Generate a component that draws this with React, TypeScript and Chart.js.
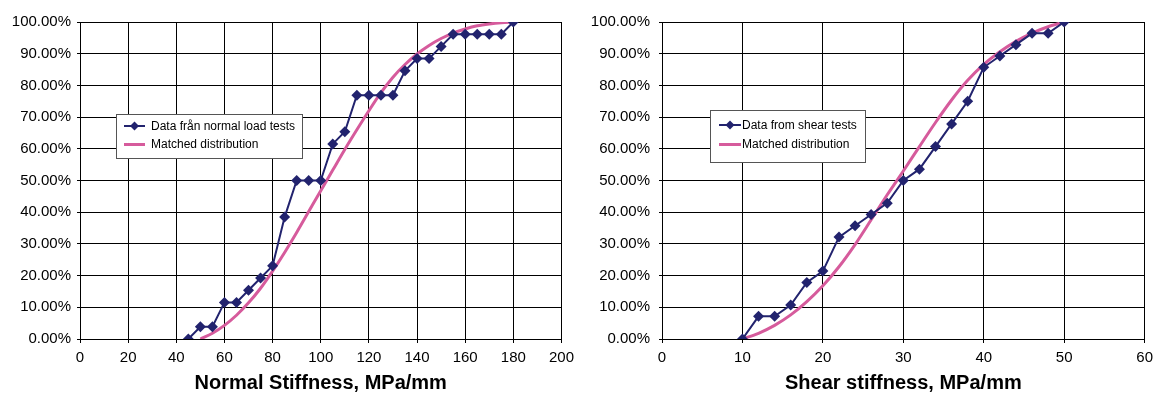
import React, { useEffect, useRef } from "react";
import { Chart, registerables } from "chart.js";

Chart.register(...registerables);

const FONT = "'Liberation Sans', Arial, Helvetica, sans-serif";
const NAVY = "#22236e";
const PINK = "#d65b9c";

// Normal load tests: stiffness (MPa/mm) and cumulative share (%)
const normalX = [45, 50, 55, 60, 65, 70, 75, 80, 85, 90, 95, 100, 105, 110, 115, 120, 125, 130, 135, 140, 145, 150, 155, 160, 165, 170, 175, 180];
const normalPct = [0, 3.85, 3.85, 11.54, 11.54, 15.38, 19.23, 23.08, 38.46, 50, 50, 50, 61.54, 65.38, 76.92, 76.92, 76.92, 76.92, 84.62, 88.46, 88.46, 92.31, 96.15, 96.15, 96.15, 96.15, 96.15, 100];

// Matched distribution for the normal stiffness
const normalFitX = [50, 55, 60, 65, 70, 75, 80, 85, 90, 95, 100, 105, 110, 115, 120, 125, 130, 135, 140, 145, 150, 155, 160, 165, 170, 175, 180];
const normalFitPct = [0, 1.8, 4.3, 7.5, 11.4, 16.0, 21.4, 27.3, 33.6, 40.2, 46.8, 53.3, 59.8, 66.0, 72.0, 77.7, 82.6, 86.6, 89.9, 92.6, 94.8, 96.5, 97.8, 98.8, 99.4, 99.8, 100];

// Shear tests: stiffness (MPa/mm) and cumulative share (%)
const shearX = [10, 12, 14, 16, 18, 20, 22, 24, 26, 28, 30, 32, 34, 36, 38, 40, 42, 44, 46, 48, 50];
const shearPct = [0, 7.14, 7.14, 10.71, 17.86, 21.43, 32.14, 35.71, 39.29, 42.86, 50, 53.57, 60.71, 67.86, 75, 85.71, 89.29, 92.86, 96.43, 96.43, 100];

// Matched distribution for the shear stiffness
const shearFitX = [10, 12, 14, 16, 18, 20, 22, 24, 26, 28, 30, 32, 34, 36, 38, 40, 42, 44, 46, 48, 50];
const shearFitPct = [0, 1.8, 4.3, 7.6, 11.8, 16.8, 22.8, 29.8, 37.6, 45.5, 53.0, 60.7, 68.3, 75.4, 81.6, 86.6, 90.6, 93.9, 96.5, 98.5, 100];

const toPoints = (xs: number[], ys: number[]) => xs.map((x, i) => ({ x, y: ys[i] }));

// Boxed legend drawn inside the plot area
const boxLegend = {
  id: "boxLegend",
  afterDraw(chart: any, _args: any, opts: any) {
    const { ctx } = chart;
    const { x, y, w, h, lineX0, lineX1, textX, rows } = opts;
    ctx.save();
    ctx.fillStyle = "#ffffff";
    ctx.fillRect(x, y, w, h);
    ctx.strokeStyle = "#555555";
    ctx.lineWidth = 1;
    ctx.strokeRect(Math.round(x) + 0.5, Math.round(y) + 0.5, Math.round(w), Math.round(h));
    chart.data.datasets.forEach((ds: any, i: number) => {
      const cy = rows[i];
      ctx.strokeStyle = ds.borderColor;
      ctx.lineWidth = ds.borderWidth;
      ctx.beginPath();
      ctx.moveTo(lineX0, cy);
      ctx.lineTo(lineX1, cy);
      ctx.stroke();
      if (ds.pointRadius > 0) {
        const cx = (lineX0 + lineX1) / 2;
        const r = 4.5;
        ctx.fillStyle = ds.pointBackgroundColor;
        ctx.beginPath();
        ctx.moveTo(cx, cy - r);
        ctx.lineTo(cx + r, cy);
        ctx.lineTo(cx, cy + r);
        ctx.lineTo(cx - r, cy);
        ctx.closePath();
        ctx.fill();
      }
      ctx.fillStyle = "#000000";
      ctx.font = `12px ${FONT}`;
      ctx.textBaseline = "middle";
      ctx.textAlign = "left";
      ctx.fillText(ds.label, textX, cy + 0.5);
    });
    ctx.restore();
  },
};

type PanelProps = {
  width: number;
  height: number;
  dataLabel: string;
  dataX: number[];
  dataY: number[];
  fitX: number[];
  fitY: number[];
  xMax: number;
  xStep: number;
  xTitle: string;
  yAxisWidth: number;
  yLabelPad: number;
  padRight: number;
  legend: any;
};

function Panel(p: PanelProps) {
  const ref = useRef<HTMLCanvasElement | null>(null);

  useEffect(() => {
    if (!ref.current) return;
    const chart = new Chart(ref.current, {
      type: "scatter",
      data: {
        datasets: [
          {
            label: p.dataLabel,
            data: toPoints(p.dataX, p.dataY),
            showLine: true,
            borderColor: NAVY,
            backgroundColor: NAVY,
            pointBackgroundColor: NAVY,
            pointBorderColor: NAVY,
            borderWidth: 2,
            pointStyle: "rectRot",
            pointRadius: 5.5,
            pointBorderWidth: 0,
            tension: 0,
            order: 0,
          },
          {
            label: "Matched distribution",
            data: toPoints(p.fitX, p.fitY),
            showLine: true,
            borderColor: PINK,
            backgroundColor: PINK,
            pointBackgroundColor: PINK,
            borderWidth: 3,
            pointRadius: 0,
            cubicInterpolationMode: "monotone",
            order: 1,
          },
        ],
      } as any,
      options: {
        animation: false,
        responsive: false,
        devicePixelRatio: 1,
        layout: { padding: { top: 22, right: p.padRight, bottom: 0, left: 0 } },
        plugins: {
          legend: { display: false },
          tooltip: { enabled: false },
          boxLegend: p.legend,
        } as any,
        scales: {
          x: {
            type: "linear",
            min: 0,
            max: p.xMax,
            ticks: {
              stepSize: p.xStep,
              color: "#000",
              font: { family: FONT, size: 15 },
              padding: 6,
              maxRotation: 0,
              autoSkip: false,
            },
            grid: { color: "#000", lineWidth: 1, tickLength: 4 },
            border: { color: "#000", width: 1 },
            title: {
              display: true,
              text: p.xTitle,
              color: "#000",
              font: { family: FONT, size: 20, weight: "bold", lineHeight: 1.2 },
              padding: { top: 0, bottom: 3 },
            },
            afterFit: (s: any) => {
              s.height = 59;
            },
          },
          y: {
            type: "linear",
            min: 0,
            max: 100,
            ticks: {
              stepSize: 10,
              color: "#000",
              font: { family: FONT, size: 15 },
              padding: p.yLabelPad,
              callback: (v: any) => Number(v).toFixed(2) + "%",
            },
            grid: { color: "#000", lineWidth: 1, tickLength: 3 },
            border: { color: "#000", width: 1 },
            afterFit: (s: any) => {
              s.width = p.yAxisWidth;
            },
          },
        },
      } as any,
      plugins: [boxLegend],
    });
    return () => chart.destroy();
  }, []);

  return <canvas ref={ref} width={p.width} height={p.height} style={{ display: "block" }} />;
}

export default function App() {
  return (
    <div style={{ position: "absolute", left: 0, top: 0, width: 1159, height: 398, background: "#fff" }}>
      <div style={{ position: "absolute", left: 0, top: 0 }}>
        <Panel
          width={580}
          height={398}
          dataLabel="Data från normal load tests"
          dataX={normalX}
          dataY={normalPct}
          fitX={normalFitX}
          fitY={normalFitPct}
          xMax={200}
          xStep={20}
          xTitle="Normal Stiffness, MPa/mm"
          yAxisWidth={80}
          yLabelPad={6}
          padRight={15}
          legend={{ x: 116, y: 114, w: 186, h: 44, lineX0: 124, lineX1: 145, textX: 151, rows: [126, 144.5] }}
        />
      </div>
      <div style={{ position: "absolute", left: 580, top: 0 }}>
        <Panel
          width={579}
          height={398}
          dataLabel="Data from shear tests"
          dataX={shearX}
          dataY={shearPct}
          fitX={shearFitX}
          fitY={shearFitPct}
          xMax={60}
          xStep={10}
          xTitle="Shear stiffness, MPa/mm"
          yAxisWidth={82}
          yLabelPad={9}
          padRight={10}
          legend={{ x: 130, y: 110, w: 155, h: 52, lineX0: 139, lineX1: 161, textX: 162, rows: [125, 144.5] }}
        />
      </div>
    </div>
  );
}
